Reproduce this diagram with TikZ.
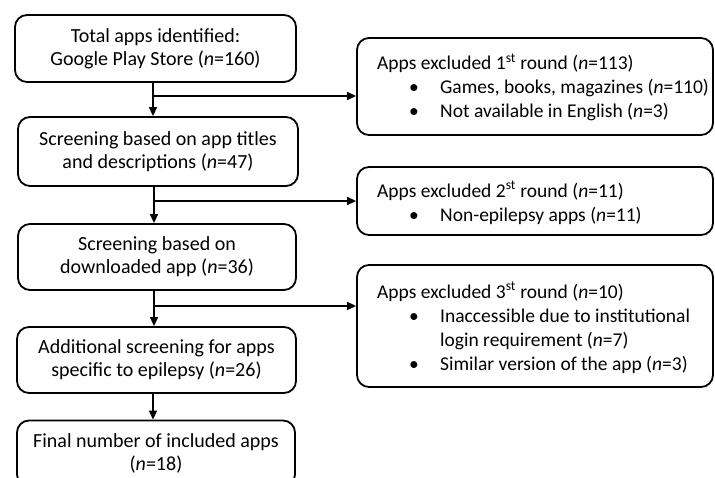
\documentclass[tikz,border=0pt]{standalone}
\usepackage{fontspec}
\setmainfont{Carlito}
\usetikzlibrary{arrows.meta,calc}
\begin{document}
\begin{tikzpicture}[x=1pt,y=-1pt,
  lbox/.style={draw, line width=1.8pt, rounded corners=12pt, align=center, inner sep=0pt,
    font=\fontsize{20}{23}\selectfont},
  rbox/.style={draw, line width=1.8pt, rounded corners=12pt, inner sep=0pt, minimum width=356pt},
  rtext/.style={anchor=west, align=left, inner sep=0pt, font=\fontsize{19.5}{24}\selectfont},
  arr/.style={line width=1.5pt, -{Triangle[length=9pt,width=8pt]}}]
\useasboundingbox (0,0) rectangle (715,478);
\clip (0,0) rectangle (715,478);
\newcommand{\bul}{\makebox[63pt][l]{\hspace{32pt}\textbullet}}
% left column
\node[lbox, minimum width=281pt, minimum height=67pt] (b1) at (155.5,48.5)
  {Total apps identified:\\Google Play Store (\textit{n}=160)};
\node[lbox, minimum width=280pt, minimum height=69pt] (b2) at (158,151.5)
  {Screening based on app titles\\and descriptions (\textit{n}=47)};
\node[lbox, minimum width=278pt, minimum height=66pt] (b3) at (157,257)
  {Screening based on\\downloaded app (\textit{n}=36)};
\node[lbox, minimum width=279pt, minimum height=66pt] (b4) at (156.5,360)
  {Additional screening for apps\\specific to epilepsy (\textit{n}=26)};
\node[lbox, minimum width=278pt, minimum height=66pt] (b5) at (156,453.5)
  {Final number of included apps\\(\textit{n}=18)};
% right column
\node[rbox, minimum height=97pt] (r1) at (535,86.5) {};
\node[rtext] (r1t) at (377,87.5)
  {Apps excluded 1\textsuperscript{st} round (\textit{n}=113)\\
   \bul Games, books, magazines (\textit{n}=110)\\
   \bul Not available in English (\textit{n}=3)};
\node[rbox, minimum height=68pt] (r2) at (535,201) {};
\node[rtext] (r2t) at (377,203)
  {Apps excluded 2\textsuperscript{st} round (\textit{n}=11)\\
   \bul Non-epilepsy apps (\textit{n}=11)};
\node[rbox, minimum height=122pt] (r3) at (535,326) {};
\node[rtext] (r3t) at (377,328)
  {Apps excluded 3\textsuperscript{st} round (\textit{n}=10)\\
   \bul Inaccessible due to institutional\\
   \hspace*{63pt}login requirement (\textit{n}=7)\\
   \bul Similar version of the app (\textit{n}=3)};
% connectors
\coordinate (a1) at (153,96);
\coordinate (a2) at (154,201);
\coordinate (a3) at (154,306);
\coordinate (a4) at (153,0);
\draw[arr] (b1.south -| a1) -- (b2.north -| a1);
\draw[arr] (a1) -- (a1 -| r1.west);
\draw[arr] (b2.south -| a2) -- (b3.north -| a2);
\draw[arr] (a2) -- (a2 -| r2.west);
\draw[arr] (b3.south -| a3) -- (b4.north -| a3);
\draw[arr] (a3) -- (a3 -| r3.west);
\draw[arr] (b4.south -| a4) -- (b5.north -| a4);
\end{tikzpicture}
\end{document}
